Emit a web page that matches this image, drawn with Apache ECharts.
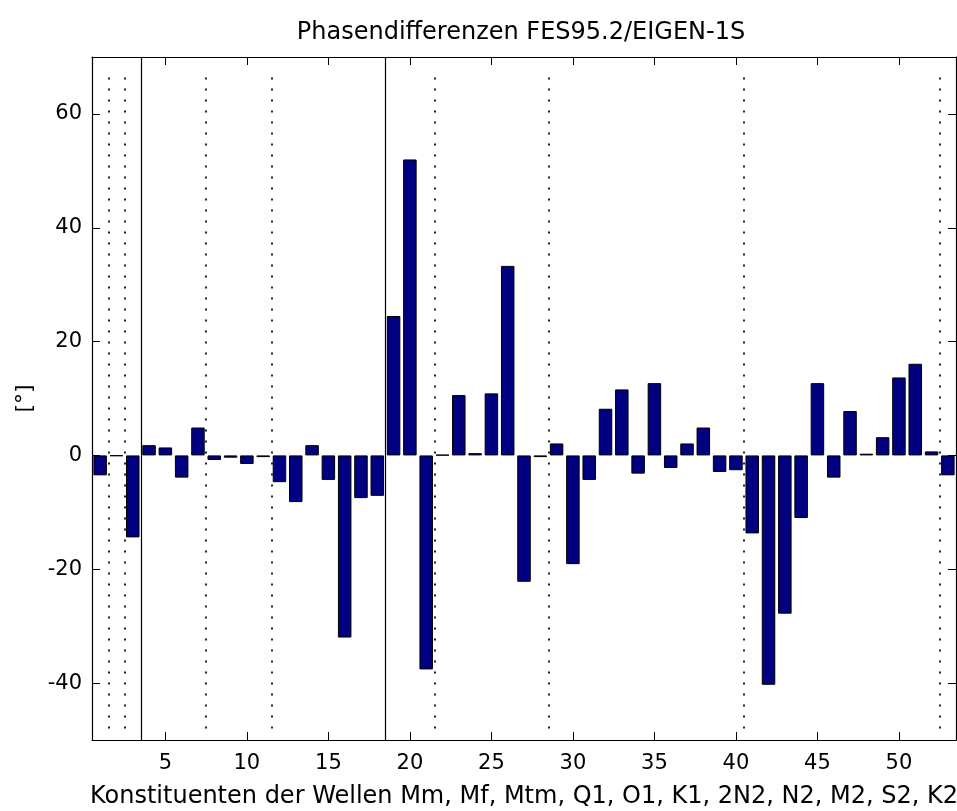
<!DOCTYPE html>
<html>
<head>
<meta charset="utf-8">
<title>Phasendifferenzen FES95.2/EIGEN-1S</title>
<script src="https://cdn.jsdelivr.net/npm/echarts@6/dist/echarts.min.js"></script>
<style>
  html, body { margin: 0; padding: 0; background: #fff; }
  #chart { width: 957px; height: 811px; }
</style>
</head>
<body>
<div id="chart"></div>
<script>
// Nummer der Partialtide
const constituentNo = [
  1, 2, 3, 4, 5, 6, 7, 8, 9, 10,
  11, 12, 13, 14, 15, 16, 17, 18, 19, 20,
  21, 22, 23, 24, 25, 26, 27, 28, 29, 30,
  31, 32, 33, 34, 35, 36, 37, 38, 39, 40,
  41, 42, 43, 44, 45, 46, 47, 48, 49, 50,
  51, 52, 53
]
// Phasendifferenz in Grad
const phaseDiff = [
  -3.5, -0.1, -14.4, 1.8, 1.4, -3.9, 4.9, -0.8, -0.4, -1.5,
  -0.3, -4.7, -8.2, 1.8, -4.3, -32.0, -7.5, -7.1, 24.5, 52.0,
  -37.6, 0.1, 10.6, 0.4, 10.9, 33.3, -22.2, -0.3, 2.1, -19.1,
  -4.3, 8.2, 11.6, -3.2, 12.7, -2.2, 2.1, 4.9, -2.9, -2.6,
  -13.7, -40.3, -27.8, -11.0, 12.7, -3.9, 7.8, 0.3, 3.2, 13.7,
  16.1, 0.7, -3.5
]
const xTicks = [5, 10, 15, 20, 25, 30, 35, 40, 45, 50]
const yTicks = [-40, -20, 0, 20, 40, 60]
// Trennlinien zwischen den Wellengruppen
const dottedSeps = [1.5, 2.5, 7.5, 11.5, 21.5, 28.5, 40.5, 52.5]
const solidSeps = [3.5, 18.5]

const FONT = 'DejaVu Sans'

const sepLines = []
dottedSeps.forEach(x => {
  sepLines.push([
    { coord: [x, -48], lineStyle: { color: '#222', width: 2, type: [2, 9] } },
    { coord: [x, 68] }
  ])
})
solidSeps.forEach(x => {
  sepLines.push([
    { coord: [x, -50], lineStyle: { color: '#000', width: 1.2, type: 'solid' } },
    { coord: [x, 70] }
  ])
})

const tickStyle = { show: true, inside: true, length: 8, lineStyle: { color: '#000', width: 1 } }
const lineStyle = { show: true, onZero: false, lineStyle: { color: '#000', width: 1.2 } }

var option = {
  animation: false,
  backgroundColor: '#fff',
  title: {
    text: 'Phasendifferenzen FES95.2/EIGEN-1S',
    left: 521,
    top: 21,
    padding: 0,
    textAlign: 'center',
    textStyle: { fontFamily: FONT, fontSize: 24, fontWeight: 'normal', color: '#000' }
  },
  grid: { left: 92, right: 1, top: 57, bottom: 71, outerBoundsMode: 'none', containLabel: false },
  xAxis: [
    {
      type: 'value',
      min: 0.5,
      max: 53.5,
      position: 'bottom',
      axisLine: lineStyle,
      axisTick: Object.assign({ customValues: xTicks }, tickStyle),
      axisLabel: { customValues: xTicks, margin: 13, fontFamily: FONT, fontSize: 21, color: '#000' },
      splitLine: { show: false },
      name: 'Konstituenten der Wellen Mm, Mf, Mtm, Q1, O1, K1, 2N2, N2, M2, S2, K2',
      nameLocation: 'middle',
      nameGap: 45,
      nameMoveOverlap: false,
      nameTextStyle: { fontFamily: FONT, fontSize: 24, color: '#000' }
    },
    {
      type: 'value',
      min: 0.5,
      max: 53.5,
      position: 'top',
      axisLine: lineStyle,
      axisTick: Object.assign({ customValues: xTicks }, tickStyle),
      axisLabel: { show: false },
      splitLine: { show: false }
    }
  ],
  yAxis: [
    {
      type: 'value',
      min: -50,
      max: 70,
      position: 'left',
      axisLine: lineStyle,
      axisTick: Object.assign({ customValues: yTicks }, tickStyle),
      axisLabel: { customValues: yTicks, margin: 10, fontFamily: FONT, fontSize: 21, color: '#000' },
      splitLine: { show: false },
      name: '[°]',
      nameLocation: 'middle',
      nameGap: 56,
      nameTextStyle: { fontFamily: FONT, fontSize: 22, color: '#000' }
    },
    {
      type: 'value',
      min: -50,
      max: 70,
      position: 'right',
      axisLine: lineStyle,
      axisTick: Object.assign({ customValues: yTicks }, tickStyle),
      axisLabel: { show: false },
      splitLine: { show: false }
    }
  ],
  series: [
    {
      type: 'bar',
      xAxisIndex: 0,
      yAxisIndex: 0,
      barWidth: 13.5,
      itemStyle: { color: '#000080', borderColor: '#000', borderWidth: 1 },
      data: constituentNo.map((n, i) => [n, phaseDiff[i]]),
      markLine: {
        silent: true,
        symbol: ['none', 'none'],
        label: { show: false },
        data: sepLines
      }
    }
  ]
}

const chart = echarts.init(document.getElementById('chart'))
chart.setOption(option)
</script>
</body>
</html>
